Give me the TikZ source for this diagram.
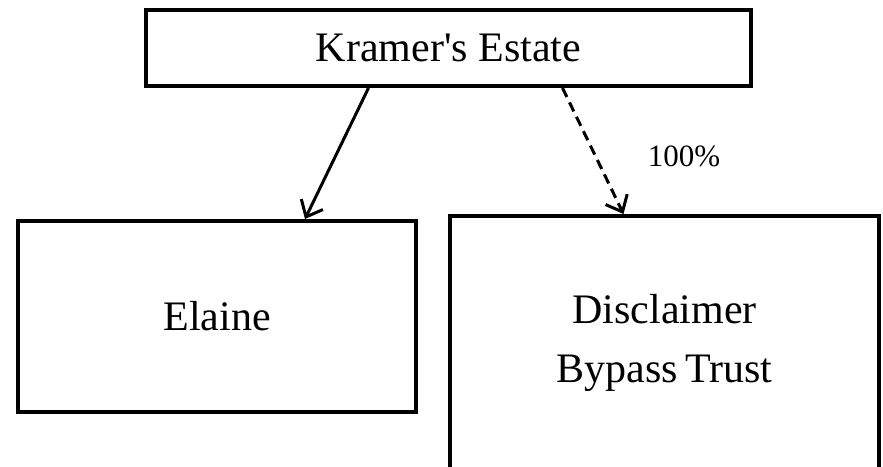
\documentclass[tikz,border=0pt]{standalone}
\usepackage{fontspec}
\setmainfont{Liberation Serif}[Ligatures=TeXOff]
\usepackage{tikz}
\usetikzlibrary{arrows.meta}

\begin{document}
\begin{tikzpicture}[x=1pt,y=-1pt,>={Straight Barb[length=14pt,width=24pt]},
box/.style={draw,line width=4pt,rectangle,inner sep=0pt,font=\fontsize{42}{59}\selectfont,align=center},
link/.style={->,line width=3pt}]
\useasboundingbox(0,0)rectangle(883,466);
\clip(0,0)rectangle(883,466);
\node[box,minimum width=605pt,minimum height=76pt](estate)at(448.5,48){Kramer's Estate};
\node[box,minimum width=398pt,minimum height=191pt](elaine)at(217,316.5){Elaine};
\node[box,minimum width=429pt,minimum height=254pt](trust)at(664.5,343){Disclaimer\\Bypass\,Trust};
\node[font=\fontsize{31}{34}\selectfont](pct)at(684,156){100\%};
\draw[link]([xshift=-80pt]estate.south)--([xshift=88pt]elaine.north);
\draw[link,dash pattern=on 10pt off 6pt]([xshift=114pt]estate.south)--([xshift=-41pt]trust.north);
\end{tikzpicture}
\end{document}
